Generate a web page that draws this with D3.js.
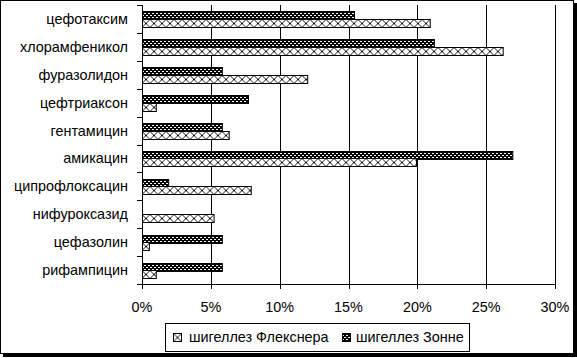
<!DOCTYPE html>
<html><head><meta charset="utf-8">
<script src="https://cdn.jsdelivr.net/npm/d3@7"></script>
<style>
html,body{margin:0;padding:0;background:#fff;}
svg{display:block;}
text{font-family:Arial,"Liberation Sans",sans-serif;font-size:14.4px;fill:#000;}
</style></head><body>
<svg id="c" width="577" height="358"></svg>
<script>
const categories = ["цефотаксим","хлорамфеникол","фуразолидон","цефтриаксон","гентамицин","амикацин","ципрофлоксацин","нифуроксазид","цефазолин","рифампицин"];
const flexner = [20.9, 26.2, 12.0, 1.0, 6.3, 19.9, 7.9, 5.2, 0.5, 1.0];
const sonne   = [15.4, 21.2, 5.8, 7.7, 5.8, 26.9, 1.9, 0, 5.8, 5.8];
const tickValues = [0,5,10,15,20,25,30];
const seriesNames = ["шигеллез Флекснера","шигеллез Зонне"];

const svg = d3.select("#c");
const pL = 142, pR = 555, pT = 5, pB = 284;

// frame with shadow
svg.append("rect").attr("x",3).attr("y",3).attr("width",574).attr("height",354).attr("fill","#000");
svg.append("rect").attr("x",0.5).attr("y",0.5).attr("width",573).attr("height",353).attr("fill","#fff").attr("stroke","#000");

const x = d3.scaleLinear().domain([0,30]).range([pL,pR]);
const y = d3.scaleBand().domain(categories).range([pT,pB]);

const defs = svg.append("defs");
const pd = defs.append("pattern").attr("id","dark").attr("patternUnits","userSpaceOnUse").attr("width",4).attr("height",4);
pd.append("rect").attr("width",4).attr("height",4).attr("fill","#000");
pd.append("rect").attr("x",0).attr("y",1).attr("width",2).attr("height",1).attr("fill","#fff");
pd.append("rect").attr("x",2).attr("y",3).attr("width",2).attr("height",1).attr("fill","#fff");

// gridlines
svg.append("g").selectAll("line").data(tickValues.slice(1)).join("line")
  .attr("x1",d=>Math.round(x(d))+0.5).attr("x2",d=>Math.round(x(d))+0.5)
  .attr("y1",pT).attr("y2",pB).attr("stroke","#000");

const groupH = y.bandwidth()*0.54;
const barH = groupH/2;
const off = (y.bandwidth()-groupH)/2;

categories.forEach((c,i)=>{
  const yd = y(c)+off;
  const yl = yd+barH;
  const hp = defs.append("pattern").attr("id","h"+i).attr("patternUnits","userSpaceOnUse")
    .attr("x",pL).attr("y",Math.round(yl)+0.5).attr("width",Math.round(barH)).attr("height",Math.round(barH));
  const b = Math.round(barH);
  hp.append("rect").attr("width",b).attr("height",b).attr("fill","#fff");
  hp.append("path").attr("d",`M0,0L${b},${b}M0,${b}L${b},0`).attr("stroke","#000").attr("stroke-width",0.9).attr("fill","none");
  if (sonne[i] > 0) {
    svg.append("rect").attr("x",pL+0.5).attr("y",Math.round(yd)+0.5)
      .attr("width",x(sonne[i])-pL).attr("height",b)
      .attr("fill","url(#dark)").attr("stroke","#000");
  }
  if (flexner[i] > 0) {
    svg.append("rect").attr("x",pL+0.5).attr("y",Math.round(yl)+0.5)
      .attr("width",x(flexner[i])-pL).attr("height",b)
      .attr("fill","url(#h"+i+")").attr("stroke","#000");
  }
});

// left axis
const gl = svg.append("g");
gl.append("line").attr("x1",pL+0.5).attr("x2",pL+0.5).attr("y1",pT).attr("y2",pB+5).attr("stroke","#000");
gl.selectAll("line.t").data(d3.range(categories.length+1)).join("line").attr("class","t")
  .attr("x1",pL-5).attr("x2",pL)
  .attr("y1",d=>Math.round(pT+d*y.step())+0.5).attr("y2",d=>Math.round(pT+d*y.step())+0.5).attr("stroke","#000");
gl.selectAll("text").data(categories).join("text")
  .attr("x",128).attr("y",d=>y(d)+y.bandwidth()/2+5).attr("text-anchor","end").text(d=>d);

// bottom axis
const gb = svg.append("g");
gb.append("line").attr("x1",pL-5).attr("x2",pR+1).attr("y1",pB+0.5).attr("y2",pB+0.5).attr("stroke","#000");
gb.selectAll("line.t").data(tickValues).join("line").attr("class","t")
  .attr("x1",d=>Math.round(x(d))+0.5).attr("x2",d=>Math.round(x(d))+0.5)
  .attr("y1",pB).attr("y2",pB+5).attr("stroke","#000");
gb.selectAll("text").data(tickValues).join("text")
  .attr("x",d=>x(d)).attr("y",312).attr("text-anchor","middle").text(d=>d+"%");

// legend
const lg = svg.append("g");
lg.append("rect").attr("x",165.5).attr("y",323.5).attr("width",304).attr("height",28).attr("fill","#fff").attr("stroke","#000");
const lp = defs.append("pattern").attr("id","hl").attr("patternUnits","userSpaceOnUse")
  .attr("x",173.5).attr("y",333.5).attr("width",8).attr("height",8);
lp.append("rect").attr("width",8).attr("height",8).attr("fill","#fff");
lp.append("path").attr("d","M0,0L8,8M0,8L8,0").attr("stroke","#000").attr("stroke-width",0.9);
const items = [{n:seriesNames[0], f:"url(#hl)", sx:173.5, tx:189},{n:seriesNames[1], f:"url(#dark)", sx:342.5, tx:356}];
items.forEach(it=>{
  lg.append("rect").attr("x",it.sx).attr("y",333.5).attr("width",8).attr("height",8).attr("fill",it.f).attr("stroke","#000");
  lg.append("text").attr("x",it.tx).attr("y",342).text(it.n);
});
</script>
</body></html>
